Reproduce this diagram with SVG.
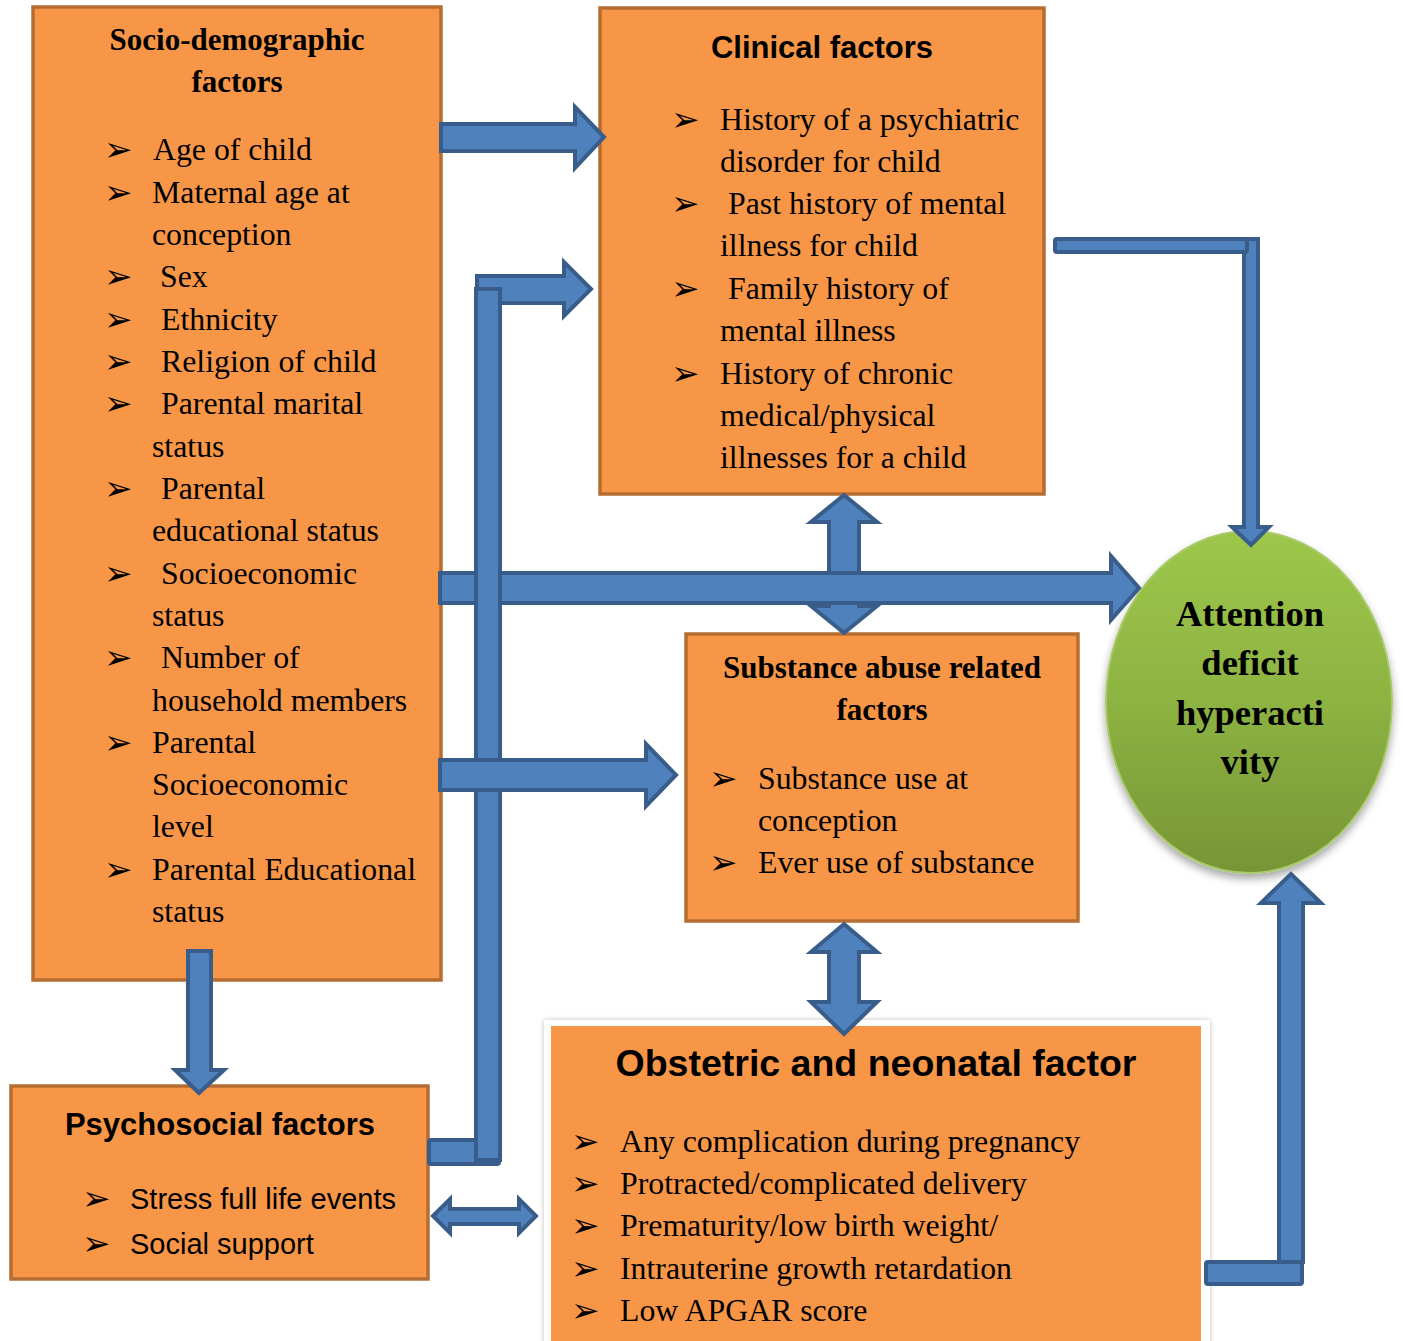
<svg xmlns="http://www.w3.org/2000/svg" width="1403" height="1341" viewBox="0 0 1403 1341">
<defs>
<linearGradient id="gEll" x1="0" y1="0" x2="0" y2="1">
<stop offset="0" stop-color="#9DC74A"/>
<stop offset="0.5" stop-color="#8DB342"/>
<stop offset="1" stop-color="#769536"/>
</linearGradient>
<filter id="shEll" x="-20%" y="-20%" width="140%" height="140%">
<feDropShadow dx="0" dy="5" stdDeviation="4" flood-color="#000" flood-opacity="0.35"/>
</filter>
<filter id="shBox" x="-5%" y="-5%" width="110%" height="110%">
<feDropShadow dx="0" dy="0" stdDeviation="2.5" flood-color="#000" flood-opacity="0.25"/>
</filter>
</defs>
<style>
.box{fill:#F79646;stroke:#B66D31;stroke-width:3.5}
.ar{fill:#4F81BD;stroke:#385D8A;stroke-width:4;stroke-linejoin:miter}
.sr{font-family:"Liberation Serif","Times New Roman",serif;font-size:31.8px;fill:#000}
.srb{font-family:"Liberation Serif","Times New Roman",serif;font-size:31px;font-weight:bold;fill:#000}
.sn{font-family:"Liberation Sans",Arial,sans-serif;font-size:29px;fill:#000}
.snb{font-family:"Liberation Sans",Arial,sans-serif;font-size:31px;font-weight:bold;fill:#000}
.bl{font-family:"DejaVu Sans",sans-serif;font-size:34px;fill:#000}
.et{font-family:"Liberation Serif","Times New Roman",serif;font-size:36.5px;font-weight:bold;fill:#000;text-anchor:middle}
</style>
<rect width="1403" height="1341" fill="#fff"/>

<g id="socio">
<rect class="box" x="33" y="7" width="408" height="973"/>
<text class="srb" x="237" y="50" text-anchor="middle">Socio-demographic</text>
<text class="srb" x="237" y="92" text-anchor="middle">factors</text>
<g class="bl">
<text x="104" y="161">➢</text><text x="104" y="204">➢</text><text x="104" y="288">➢</text><text x="104" y="331">➢</text><text x="104" y="373">➢</text><text x="104" y="415">➢</text><text x="104" y="500">➢</text><text x="104" y="585">➢</text><text x="104" y="669">➢</text><text x="104" y="754">➢</text><text x="104" y="881">➢</text>
</g>
<g class="sr">
<text x="153" y="160">Age of child</text>
<text x="152" y="203">Maternal age at</text>
<text x="152" y="245">conception</text>
<text x="160" y="287">Sex</text>
<text x="161" y="330">Ethnicity</text>
<text x="161" y="372">Religion of child</text>
<text x="161" y="414">Parental marital</text>
<text x="152" y="457">status</text>
<text x="161" y="499">Parental</text>
<text x="152" y="541">educational status</text>
<text x="161" y="584">Socioeconomic</text>
<text x="152" y="626">status</text>
<text x="161" y="668">Number of</text>
<text x="152" y="711">household members</text>
<text x="152" y="753">Parental</text>
<text x="152" y="795">Socioeconomic</text>
<text x="152" y="837">level</text>
<text x="152" y="880">Parental Educational</text>
<text x="152" y="922">status</text>
</g>
</g>

<g id="clinical">
<rect class="box" x="600" y="8" width="444" height="486"/>
<text class="snb" x="822" y="58" text-anchor="middle">Clinical factors</text>
<g class="bl">
<text x="671" y="131">➢</text><text x="671" y="215">➢</text><text x="671" y="300">➢</text><text x="671" y="385">➢</text>
</g>
<g class="sr">
<text x="720" y="130">History of a psychiatric</text>
<text x="720" y="172">disorder for child</text>
<text x="728" y="214">Past history of mental</text>
<text x="720" y="256">illness for child</text>
<text x="728" y="299">Family history of</text>
<text x="720" y="341">mental illness</text>
<text x="720" y="384">History of chronic</text>
<text x="720" y="426">medical/physical</text>
<text x="720" y="468">illnesses for a child</text>
</g>
</g>

<g id="substance">
<rect class="box" x="686" y="634" width="392" height="287"/>
<text class="srb" x="882" y="678" text-anchor="middle">Substance abuse related</text>
<text class="srb" x="882" y="720" text-anchor="middle">factors</text>
<g class="bl"><text x="709" y="790">➢</text><text x="709" y="874">➢</text></g>
<g class="sr">
<text x="758" y="789">Substance use at</text>
<text x="758" y="831">conception</text>
<text x="758" y="873">Ever use of substance</text>
</g>
</g>

<g id="psychosocial">
<rect class="box" x="11" y="1086" width="417" height="193"/>
<text class="snb" x="220" y="1135" text-anchor="middle">Psychosocial factors</text>
<g class="bl"><text x="82" y="1210">➢</text><text x="82" y="1255">➢</text></g>
<g class="sn">
<text x="130" y="1209">Stress full life events</text>
<text x="130" y="1254">Social support</text>
</g>
</g>

<g id="obstetric">
<rect x="544" y="1020" width="666" height="330" fill="#fff" filter="url(#shBox)"/>
<rect x="551" y="1026" width="650" height="320" fill="#F79646"/>
<text class="snb" x="876" y="1076" text-anchor="middle" style="font-size:37.5px">Obstetric and neonatal factor</text>
<g class="bl">
<text x="571" y="1153">➢</text><text x="571" y="1195">➢</text><text x="571" y="1237">➢</text><text x="571" y="1280">➢</text><text x="571" y="1322">➢</text>
</g>
<g class="sr">
<text x="620" y="1152">Any complication during pregnancy</text>
<text x="620" y="1194">Protracted/complicated delivery</text>
<text x="620" y="1236">Prematurity/low birth weight/</text>
<text x="620" y="1279">Intrauterine growth retardation</text>
<text x="620" y="1321">Low APGAR score</text>
</g>
</g>

<g id="adhd">
<ellipse cx="1249" cy="702" rx="143" ry="171" fill="url(#gEll)" stroke="#A9C96B" stroke-width="2" filter="url(#shEll)"/>
<text class="et" x="1250" y="626">Attention</text>
<text class="et" x="1250" y="675">deficit</text>
<text class="et" x="1250" y="725">hyperacti</text>
<text class="et" x="1250" y="774">vity</text>
</g>

<g id="connectors">
<polygon class="ar" points="441,124 575,124 575,107 604,137 575,168 575,151 441,151"/>
<polygon class="ar" points="844,495 877,522 859,522 859,606 877,606 844,633 811,606 829,606 829,522 811,522"/>
<polygon class="ar" points="844,924 877,952 859,952 859,1002 877,1002 844,1034 811,1002 829,1002 829,952 811,952"/>
<polygon class="ar" points="477,276 564,276 564,262 591,289 564,316 564,303 477,303"/>
<polygon class="ar" points="440,573 1111,573 1111,556 1139,588 1111,620 1111,603 440,603"/>
<rect class="ar" x="429" y="1140" width="70" height="24" rx="2"/>
<rect class="ar" x="476" y="289" width="24" height="871"/>
<polygon class="ar" points="440,760 646,760 646,744 676,775 646,806 646,790 440,790"/>
<polygon class="ar" points="188,951 211,951 211,1070 224,1070 199,1093 175,1070 188,1070"/>
<polygon class="ar" points="433,1216 450,1199 450,1209 519,1209 519,1199 536,1216 519,1233 519,1224 450,1224 450,1233" stroke-linejoin="round"/>
<polygon class="ar" points="1244,239 1258,239 1258,527 1269,527 1251,545 1232,527 1244,527"/>
<rect class="ar" x="1055" y="239" width="192" height="13" rx="2"/>
<polygon class="ar" points="1279,1262 1303,1262 1303,903 1321,903 1291,874 1261,903 1279,903"/>
<rect class="ar" x="1206" y="1262" width="96" height="22" rx="2"/>
</g>
</svg>
